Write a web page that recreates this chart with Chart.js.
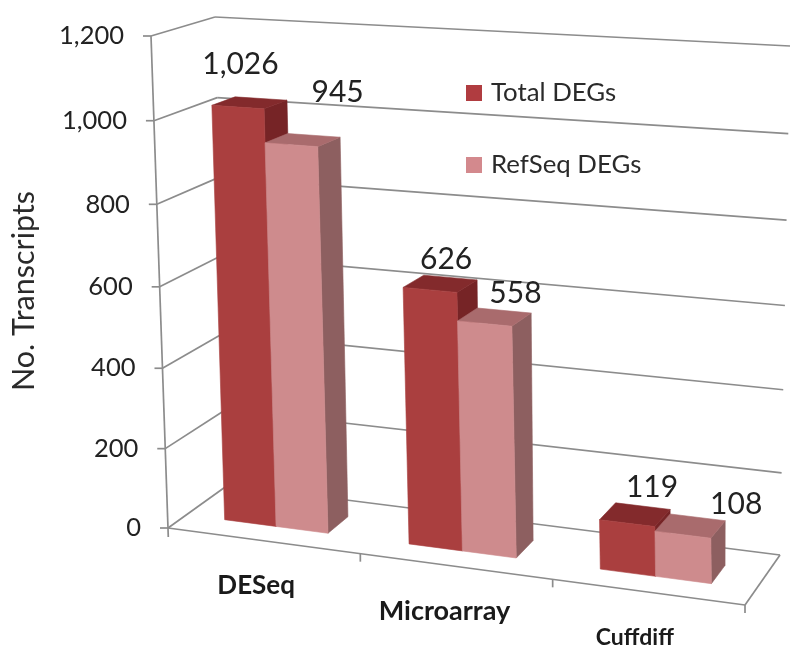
<!DOCTYPE html>
<html>
<head>
<meta charset="utf-8">
<style>html,body{margin:0;padding:0;background:#fff}canvas{display:block}</style>
<script src="https://cdn.jsdelivr.net/npm/chart.js@4"></script>
</head>
<body>
<canvas id="c" width="800" height="657"></canvas>
<script>
const categories = ['DESeq', 'Microarray', 'Cuffdiff'];
const seriesNames = ['Total DEGs', 'RefSeq DEGs'];
const totalDEGs = [1026, 626, 119];
const refSeqDEGs = [945, 558, 108];
const yMin = 0;
const yMax = 1200;
const yStep = 200;
const yTitle = 'No. Transcripts';

// Perspective box (screen corners of the 3D plot)
const FBL = [168, 528], FTL = [151, 36], FBR = [745, 605], FTR = [733, 70];
const BBL = [228, 485], BTL = [215, 17], BBR = [780, 555], BTR = [790, 46];
const VCURVE = 0.04;
const BAR_SHIFT = -0.0155, BAR_WARP = 0.054, DEPTH_FRONT = 0.31, DEPTH_BACK = 0.68;
const FONT = 'Lato, Carlito, "Open Sans", sans-serif';
const GRID = '#8c8c8c';
const faces = [
  {front: '#AA3F3F', top: '#832A2C', side: '#762426'},
  {front: '#CE8B8D', top: '#A96B6D', side: '#8D5F60'}
];
const labelOffsets = [
  [[-9, -38], [6, -24], [17, -27]],
  [[35, -48], [21, -24], [46, -22]]
];
const categoryLabelDx = [-8, -12, -14];
const categoryLabelSize = [26, 27, 23];

function lerp(a, b, k) { return [a[0] + (b[0] - a[0]) * k, a[1] + (b[1] - a[1]) * k]; }
function project(u, t, w) {
  const front = lerp(lerp(FBL, FBR, u), lerp(FTL, FTR, u), t);
  const back = lerp(lerp(BBL, BBR, u), lerp(BTL, BTR, u), t);
  return lerp(front, back, w);
}
function warp(u) { return u + BAR_SHIFT + BAR_WARP * (u - 0.5) * (u - 0.5); }

class ProjLinear extends Chart.LinearScale {
  getPixelForDecimal(d) {
    return super.getPixelForDecimal(d / (1 + VCURVE * (1 - d)));
  }
  _computeLabelItems(ca) {
    const items = super._computeLabelItems(ca);
    items.forEach((it, i) => {
      const py = this.getPixelForTick(i);
      const t = (this.bottom - py) / (this.bottom - this.top);
      it.options.translation[0] = project(0, t, 0)[0] - 27;
      it.options.textAlign = 'right';
    });
    return items;
  }
  drawTitle() {
    const ctx = this.ctx;
    ctx.save();
    ctx.translate(0, 9);
    super.drawTitle();
    ctx.restore();
  }
}
ProjLinear.id = 'projLinear';
ProjLinear.defaults = {};

class ProjCategory extends Chart.CategoryScale {
  _computeLabelItems(ca) {
    const items = super._computeLabelItems(ca);
    items.forEach((it, i) => {
      const u = (this.getPixelForTick(i) - this.left) / (this.right - this.left);
      const p = project(u, 0, 0);
      it.options.translation = [p[0] + categoryLabelDx[i], p[1] + 45];
      it.options.textAlign = 'center';
      it.options.textBaseline = 'middle';
      it.textOffset = 0;
    });
    return items;
  }
}
ProjCategory.id = 'projCategory';
ProjCategory.defaults = {};
Chart.register(ProjLinear, ProjCategory);

function line(ctx, a, b) {
  ctx.beginPath(); ctx.moveTo(a[0], a[1]); ctx.lineTo(b[0], b[1]); ctx.stroke();
}
function quad(ctx, pts, color) {
  ctx.beginPath();
  pts.forEach((p, i) => i ? ctx.lineTo(p[0], p[1]) : ctx.moveTo(p[0], p[1]));
  ctx.closePath();
  ctx.fillStyle = color;
  ctx.fill();
  ctx.strokeStyle = color;
  ctx.lineWidth = 0.6;
  ctx.stroke();
}

const perspectivePlugin = {
  id: 'perspective',
  beforeDatasetsDraw(chart) {
    const ctx = chart.ctx, y = chart.scales.y, ca = chart.chartArea;
    ctx.save();
    ctx.strokeStyle = GRID;
    ctx.lineWidth = 1.7;
    const tOf = px => (ca.bottom - px) / ca.height;
    // walls and value ticks
    y.ticks.forEach(tk => {
      const t = tOf(y.getPixelForValue(tk.value));
      const f = project(0, t, 0), bl = project(0, t, 1), br = project(1, t, 1);
      line(ctx, [f[0] - 8, f[1]], f);
      line(ctx, f, bl);
      line(ctx, bl, br);
    });
    line(ctx, FTL, [FBL[0] + 0.3, FBL[1] + 9]);
    // floor
    line(ctx, FBL, FBR);
    line(ctx, FBR, BBR);
    // category separators
    categories.forEach((c, i) => {
      const p = project((i + 1) / categories.length, 0, 0);
      line(ctx, p, [p[0], p[1] + 8]);
    });
    // bars, from the library's computed elements
    categories.forEach((c, j) => {
      chart.data.datasets.forEach((ds, i) => {
        const el = chart.getDatasetMeta(i).data[j];
        const u0 = warp((el.x - el.width / 2 - ca.left) / ca.width);
        const u1 = warp((el.x + el.width / 2 - ca.left) / ca.width);
        const t1 = tOf(el.y), t0 = tOf(el.base);
        const F = DEPTH_FRONT, B = DEPTH_BACK, col = faces[i];
        quad(ctx, [project(u1, t0, F), project(u1, t0, B), project(u1, t1, B), project(u1, t1, F)], col.side);
        quad(ctx, [project(u0, t1, F), project(u1, t1, F), project(u1, t1, B), project(u0, t1, B)], col.top);
        quad(ctx, [project(u0, t0, F), project(u1, t0, F), project(u1, t1, F), project(u0, t1, F)], col.front);
      });
    });
    ctx.restore();
    return false;
  },
  afterDraw(chart) {
    const ctx = chart.ctx, ca = chart.chartArea;
    ctx.save();
    ctx.textBaseline = 'middle';
    ctx.textAlign = 'center';
    ctx.fillStyle = '#222';
    ctx.font = '30px ' + FONT;
    chart.data.datasets.forEach((ds, i) => {
      ds.data.forEach((v, j) => {
        const el = chart.getDatasetMeta(i).data[j];
        const u = warp((el.x - ca.left) / ca.width);
        const t = (ca.bottom - el.y) / ca.height;
        const p = project(u, t, (DEPTH_FRONT + DEPTH_BACK) / 2);
        const o = labelOffsets[i][j];
        ctx.fillText(v.toLocaleString('en-US'), p[0] + o[0], p[1] + o[1]);
      });
    });
    // legend
    ctx.textAlign = 'left';
    ctx.font = '25.8px ' + FONT;
    const legendY = [93, 165];
    chart.data.datasets.forEach((ds, i) => {
      ctx.fillStyle = ds.backgroundColor;
      ctx.fillRect(466, legendY[i] - 8, 16, 16);
      ctx.fillStyle = '#2a2a2a';
      ctx.fillText(ds.label, 491, legendY[i]);
    });
    ctx.restore();
  }
};

new Chart(document.getElementById('c'), {
  type: 'bar',
  data: {
    labels: categories,
    datasets: [
      {label: seriesNames[0], data: totalDEGs, backgroundColor: '#B03C40'},
      {label: seriesNames[1], data: refSeqDEGs, backgroundColor: '#D3898D'}
    ]
  },
  options: {
    responsive: false,
    animation: false,
    layout: {padding: {top: 36, right: 55, left: 0, bottom: 0}},
    datasets: {bar: {categoryPercentage: 0.565, barPercentage: 1}},
    plugins: {legend: {display: false}, tooltip: {enabled: false}},
    scales: {
      x: {
        type: 'projCategory',
        grid: {display: false},
        border: {display: false},
        ticks: {color: '#1a1a1a', maxRotation: 0, autoSkip: false,
          font: c => ({family: FONT, size: categoryLabelSize[c.index], weight: 'bold'})},
        afterFit(s) { s.height = 129; }
      },
      y: {
        type: 'projLinear',
        min: yMin, max: yMax,
        grid: {display: false},
        border: {display: false},
        title: {display: true, text: yTitle, color: '#2a2a2a', font: {family: FONT, size: 30.5}, padding: {top: 6, bottom: 0}},
        ticks: {stepSize: yStep, color: '#222', font: {family: FONT, size: 25.5},
          callback: v => v.toLocaleString('en-US')},
        afterFit(s) { s.width = 168; }
      }
    }
  },
  plugins: [perspectivePlugin]
});
</script>
</body>
</html>
